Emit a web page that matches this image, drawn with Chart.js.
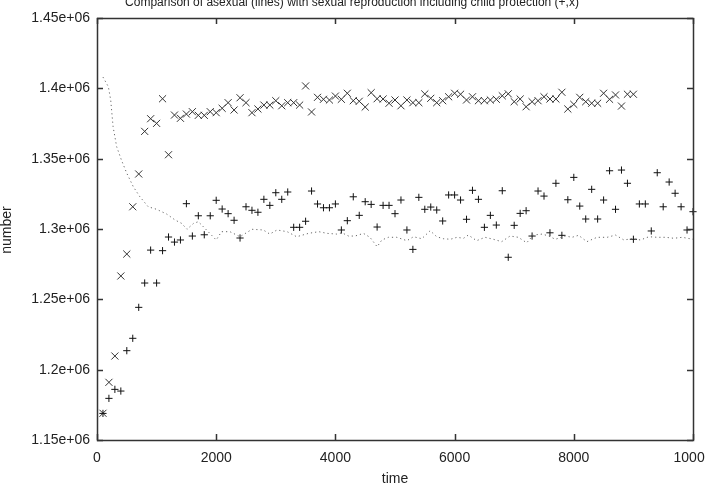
<!DOCTYPE html>
<html>
<head>
<meta charset="utf-8">
<script src="https://cdn.jsdelivr.net/npm/chart.js@4.4.1/dist/chart.umd.min.js"></script>
<style>
  html, body { margin: 0; padding: 0; background: #fff; }
  #wrap { width: 705px; height: 493px; }
</style>
</head>
<body>
<div id="wrap"><canvas id="chart" width="705" height="493"></canvas></div>
<script>
// --- Data ---
const sampleStep = 100; // simulation writes every 100 time units

// sexual reproduction, "x" marks (t = 100 ... 9000)
const xMarkValues = [
  1169000, 1191000, 1209700, 1266600, 1282200, 1315800, 1339100, 1369400, 1378400, 1375100,
  1392600, 1352800, 1381000, 1378700, 1381700, 1383400, 1380800, 1380800, 1383400, 1382700,
  1385800, 1389800, 1384600, 1393300, 1389800, 1382700, 1385300, 1388100, 1388100, 1391200,
  1387600, 1389800, 1389800, 1388100, 1401700, 1383200, 1393600, 1392200, 1391700, 1394500,
  1392200, 1396500, 1391200, 1390800, 1386700, 1396900, 1392600, 1392400, 1389400, 1391700,
  1387600, 1391700, 1389800, 1389800, 1396000, 1392900, 1389800, 1391200, 1394000, 1396500,
  1395800, 1391700, 1394000, 1391200, 1391200, 1391700, 1392200, 1394700, 1396100, 1390500,
  1392400, 1386900, 1390500, 1391200, 1394000, 1392400, 1392400, 1397200, 1385300, 1388600,
  1393600, 1390500, 1389400, 1389400, 1396500, 1392200, 1395300, 1387400, 1395800, 1395800
];

// sexual reproduction with child protection, "+" marks (t = 100 ... 10000)
const plusValues = [
  1168900, 1179600, 1186000, 1184800, 1213500, 1222300, 1244300, 1261600, 1285000, 1261600,
  1284600, 1294300, 1290700, 1292200, 1318000, 1295000, 1309400, 1295900, 1309400, 1320400,
  1314200, 1310900, 1306200, 1293600, 1315800, 1313300, 1311900, 1321100, 1316800, 1325800,
  1321100, 1326300, 1301200, 1301200, 1305500, 1327000, 1317800, 1315100, 1315100, 1317800,
  1299300, 1305900, 1322900, 1309700, 1319400, 1317500, 1301400, 1316800, 1316800, 1310900,
  1320600, 1299300, 1285500, 1322500, 1314000, 1315600, 1313500, 1305700, 1324200, 1324200,
  1320600, 1306900, 1327500, 1321100, 1301200, 1309700, 1302800, 1327200, 1279900, 1302600,
  1311100, 1313000, 1295000, 1327000, 1323400, 1297300, 1332500, 1295500, 1320800, 1336700,
  1316300, 1307100, 1328200, 1307100, 1320600, 1341400, 1314000, 1341900, 1332500, 1292700,
  1317800, 1317800, 1298600, 1340000, 1315800, 1333400, 1325400, 1315800, 1299300, 1312300
];

// asexual reproduction, dotted line
const lineTimes = [
  100, 190, 230, 270, 330, 410, 500, 610, 720, 860,
  1000, 1170, 1310, 1420, 1510, 1620, 1700, 1810, 2000, 2090,
  2230, 2400, 2600, 2790, 2900, 3020, 3190, 3350, 3550, 3720,
  3860, 4020, 4110, 4220, 4330, 4470, 4580, 4700, 4780, 4890,
  5030, 5200, 5310, 5450, 5590, 5700, 5810, 5930, 6040, 6150,
  6230, 6370, 6510, 6650, 6790, 6930, 7070, 7210, 7320, 7470,
  7580, 7690, 7860, 7970, 8080, 8220, 8390, 8560, 8700, 8840,
  8980, 9120, 9260, 9400, 9540, 9680, 9820, 10000
];
const lineValues = [
  1408000, 1401200, 1391700, 1372700, 1358500, 1349000, 1339600, 1330000, 1322900, 1315800,
  1314000, 1310600, 1306400, 1304000, 1299800, 1304000, 1305200, 1300500, 1292200, 1298100,
  1298100, 1294500, 1299800, 1299300, 1296400, 1299300, 1298100, 1294500, 1296900, 1298100,
  1296900, 1296400, 1297300, 1295000, 1295000, 1296900, 1294100, 1287400, 1292200, 1294100,
  1294100, 1291700, 1294500, 1293100, 1298800, 1294500, 1293100, 1292700, 1294100, 1293400,
  1295700, 1291700, 1294100, 1292700, 1291000, 1295000, 1294100, 1290200, 1295700, 1296400,
  1295000, 1292700, 1295000, 1294100, 1295500, 1291000, 1294100, 1294100, 1295700, 1292200,
  1293100, 1292200, 1294500, 1294100, 1294100, 1293400, 1294100, 1292700
];

const xTicks = [0, 2000, 4000, 6000, 8000, 10000];
const yTicks = [1150000, 1200000, 1250000, 1300000, 1350000, 1400000, 1450000];

const titleText = "Comparison of asexual (lines) with sexual reproduction including child protection (+,x)";
const xTitle = "time";
const yTitle = "number";

const FONT = "'Liberation Sans', Arial, sans-serif";

// --- Frame, inward ticks and titles (gnuplot look) ---
const gnuplotFrame = {
  id: "gnuplotFrame",
  afterDraw(chart) {
    const { ctx, chartArea: a, scales } = chart;
    ctx.save();
    ctx.strokeStyle = "#333";
    ctx.lineWidth = 1.5;
    ctx.strokeRect(a.left + 0.5, a.top + 0.5, a.right - a.left, a.bottom - a.top);
    const len = 6;
    ctx.beginPath();
    xTicks.forEach(t => {
      const x = Math.round(scales.x.getPixelForValue(t)) + 0.5;
      ctx.moveTo(x, a.bottom); ctx.lineTo(x, a.bottom - len);
      ctx.moveTo(x, a.top); ctx.lineTo(x, a.top + len);
    });
    yTicks.forEach(v => {
      const y = Math.round(scales.y.getPixelForValue(v)) + 0.5;
      ctx.moveTo(a.left, y); ctx.lineTo(a.left + len, y);
      ctx.moveTo(a.right, y); ctx.lineTo(a.right - len, y);
    });
    ctx.stroke();

    ctx.fillStyle = "#222";
    ctx.font = "12px " + FONT;
    ctx.textAlign = "center";
    ctx.textBaseline = "alphabetic";
    ctx.fillText(titleText, 352, 6);
    ctx.font = "14px " + FONT;
    ctx.textBaseline = "middle";
    ctx.fillText(xTitle, (a.left + a.right) / 2, 479);
    ctx.translate(7, 230);
    ctx.rotate(-Math.PI / 2);
    ctx.fillText(yTitle, 0, 0);
    ctx.restore();
  }
};

const toPoints = (vals) => vals.map((v, i) => ({ x: (i + 1) * sampleStep, y: v }));

new Chart(document.getElementById("chart").getContext("2d"), {
  type: "scatter",
  data: {
    datasets: [
      {
        label: "asexual",
        type: "line",
        data: lineTimes.map((t, i) => ({ x: t, y: lineValues[i] })),
        borderColor: "#666",
        borderWidth: 1,
        borderDash: [1.2, 3],
        pointRadius: 0,
        fill: false,
        tension: 0
      },
      {
        label: "child protection (+)",
        data: toPoints(plusValues),
        pointStyle: "cross",
        pointRadius: 3.6,
        pointBorderColor: "#111",
        pointBorderWidth: 1,
        clip: false
      },
      {
        label: "sexual (x)",
        data: toPoints(xMarkValues),
        pointStyle: "crossRot",
        pointRadius: 5,
        pointBorderColor: "#333",
        pointBorderWidth: 1,
        clip: false
      }
    ]
  },
  options: {
    responsive: false,
    animation: false,
    layout: { padding: { top: 18, right: 12, left: 0, bottom: 0 } },
    plugins: {
      legend: { display: false },
      title: { display: false },
      tooltip: { enabled: false }
    },
    scales: {
      x: {
        type: "linear",
        min: 0,
        max: 10000,
        grid: { display: false, drawTicks: false },
        border: { display: false },
        afterBuildTicks: (s) => { s.ticks = xTicks.map(v => ({ value: v })); },
        afterFit: (s) => { s.height = 53; s.paddingLeft = 0; s.paddingRight = 0; },
        ticks: {
          padding: 10,
          maxRotation: 0,
          autoSkip: false,
          color: "#222",
          font: { family: FONT, size: 14 },
          callback: (v) => String(v)
        }
      },
      y: {
        type: "linear",
        min: 1150000,
        max: 1450000,
        grid: { display: false, drawTicks: false },
        border: { display: false },
        afterBuildTicks: (s) => { s.ticks = yTicks.map(v => ({ value: v })); },
        afterFit: (s) => { s.width = 97; s.paddingTop = 0; s.paddingBottom = 0; },
        ticks: {
          padding: 7,
          autoSkip: false,
          color: "#222",
          font: { family: FONT, size: 14 },
          callback: (v) => parseFloat((v / 1e6).toFixed(2)) + "e+06"
        }
      }
    }
  },
  plugins: [gnuplotFrame]
});
</script>
</body>
</html>
